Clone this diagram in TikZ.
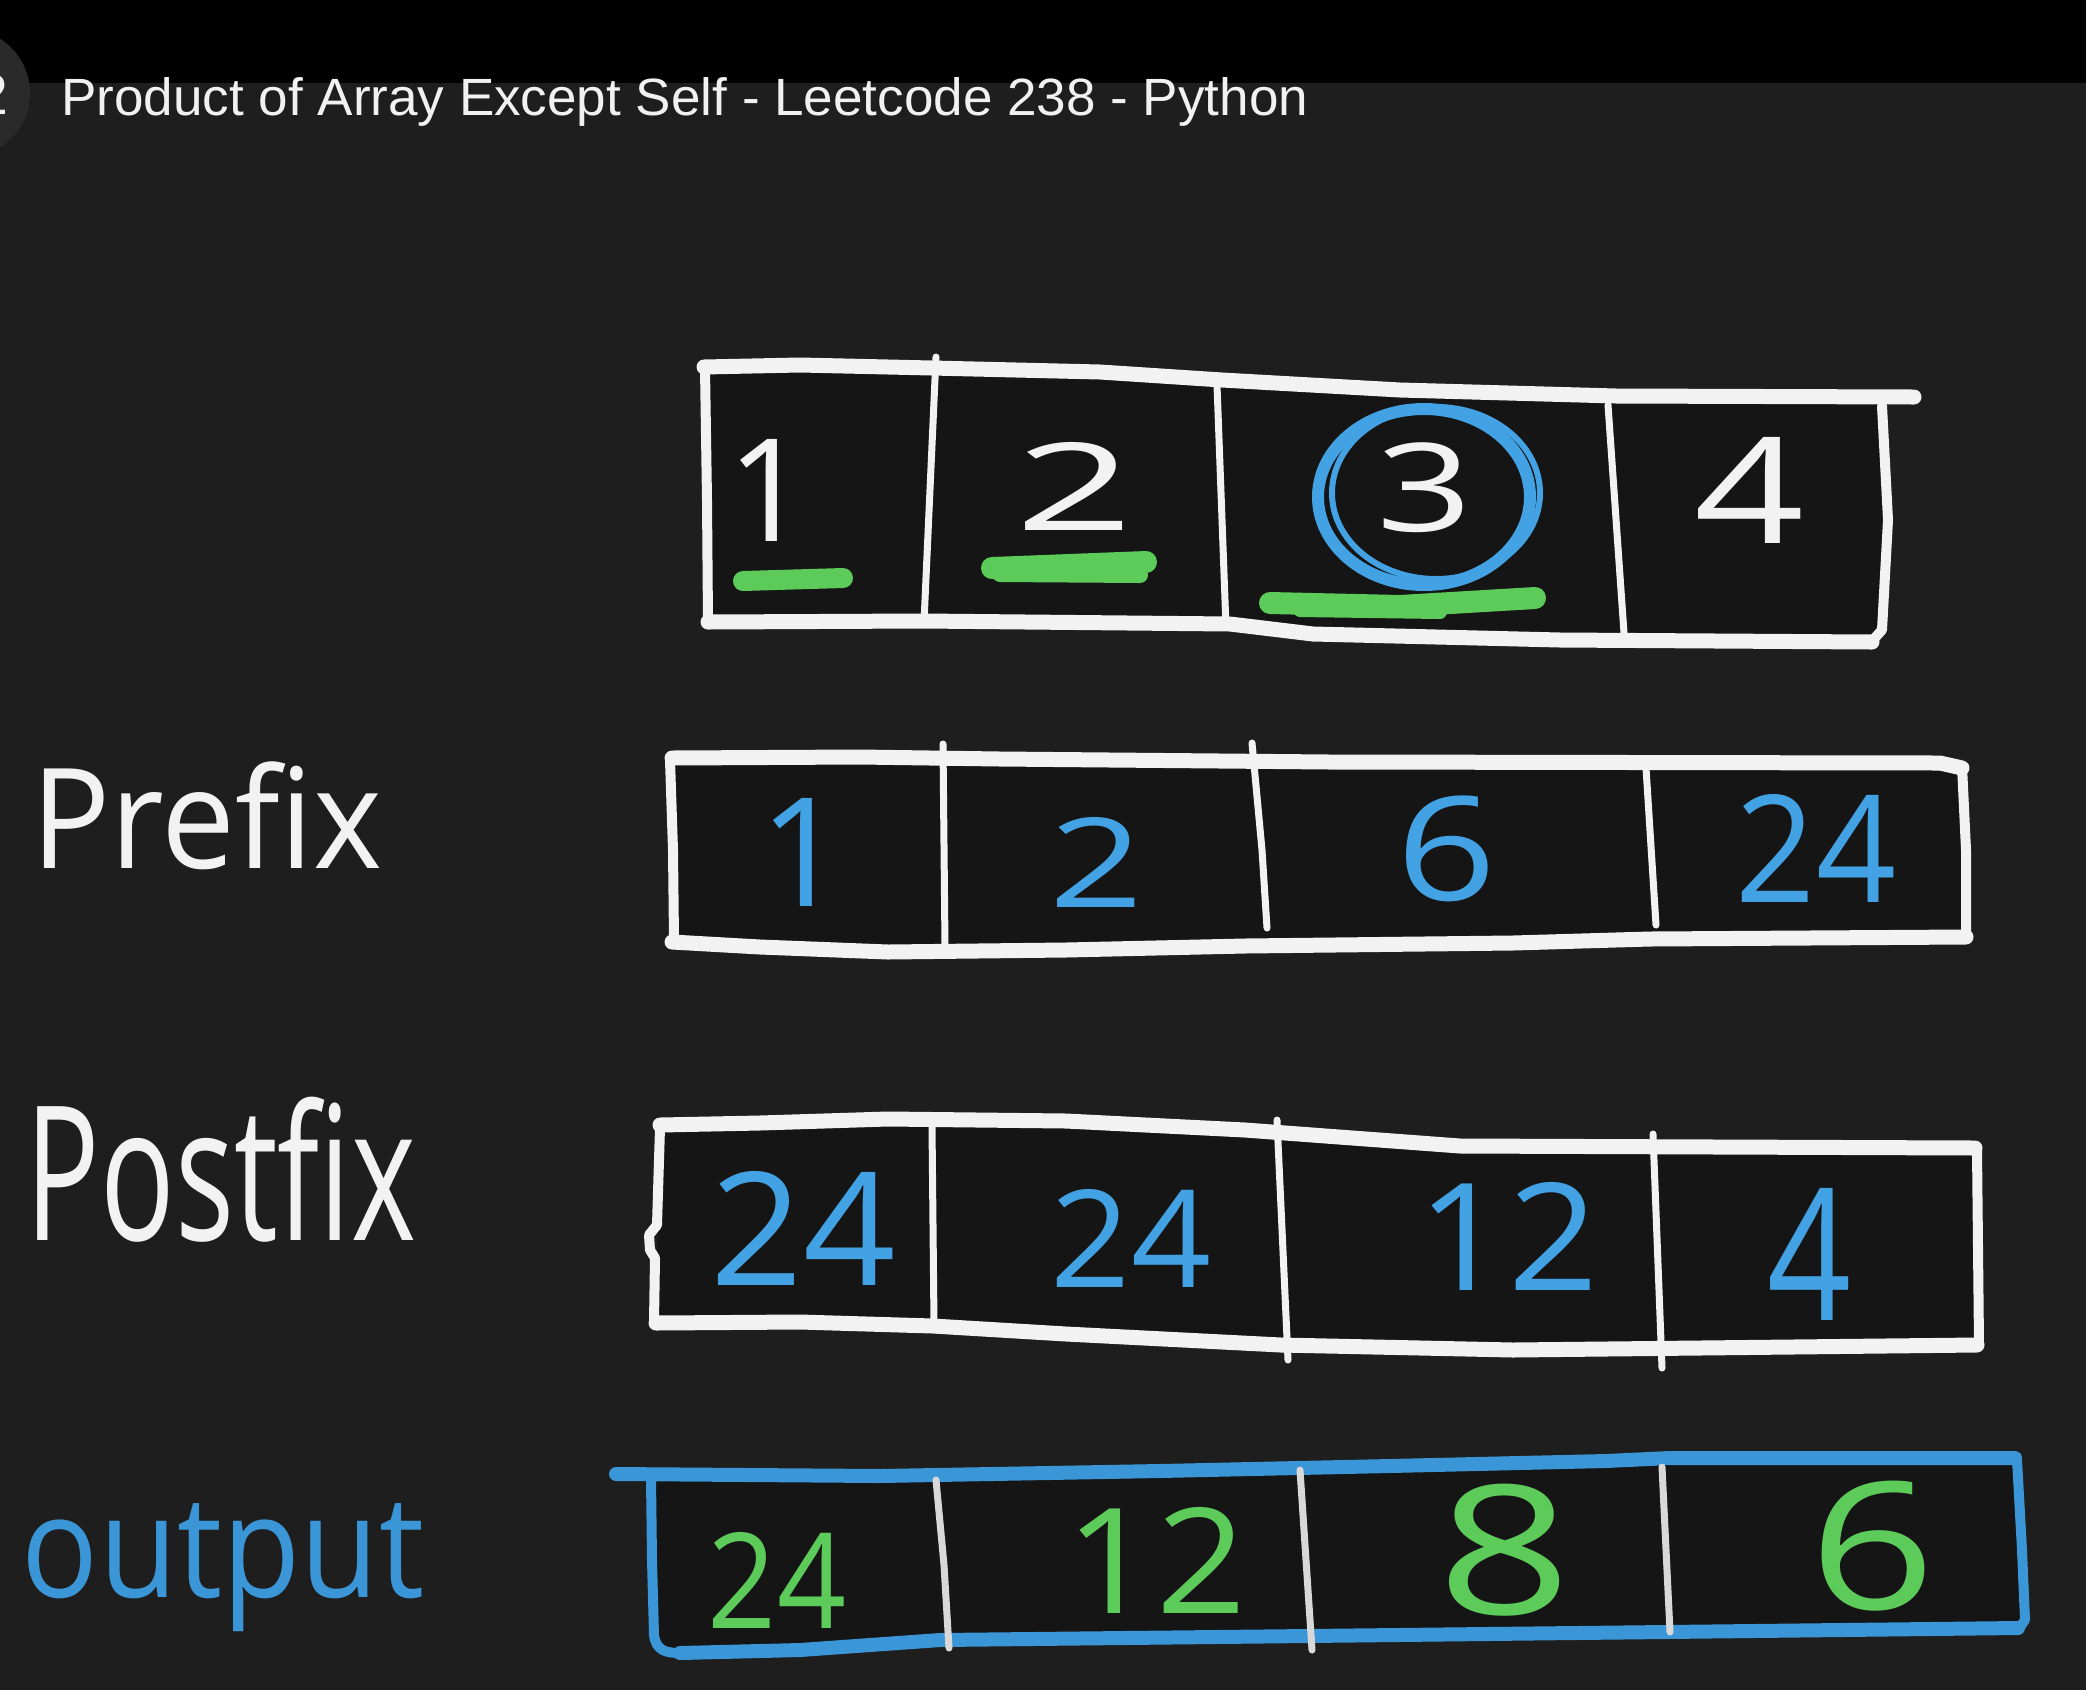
\documentclass[tikz,border=0pt]{standalone}
\usepackage{fontspec}
\usepackage{graphicx}
\setmainfont{Liberation Sans}
\newfontfamily\handfont{Open Sans}
\newfontfamily\ytfont{Liberation Sans}
\definecolor{bgc}{HTML}{1E1E1E}
\definecolor{cellc}{HTML}{151515}
\definecolor{iconc}{HTML}{2A2A2A}
\definecolor{inkw}{HTML}{F2F2F2}
\definecolor{inkg}{HTML}{D8D8D8}
\definecolor{inkb}{HTML}{43A2E4}
\definecolor{inkbo}{HTML}{3A96D6}
\definecolor{inkgr}{HTML}{5CCB5A}
\definecolor{titlec}{HTML}{F1F1F1}
\newcommand{\hd}[2]{\resizebox{!}{#1pt}{\handfont #2}}
\newcommand{\hw}[3]{\resizebox*{#1pt}{#2pt}{\handfont #3}}
\begin{document}
\begin{tikzpicture}[x=1pt,y=-1pt,
  pen/.style={line cap=round,line join=round},
  edgeh/.style={pen,draw=inkw,line width=15pt},
  edgev/.style={pen,draw=inkw,line width=10pt},
  divw/.style={pen,draw=inkw,line width=7pt},
  bedgeh/.style={pen,draw=inkbo,line width=14pt},
  bedgev/.style={pen,draw=inkbo,line width=10pt},
  divg/.style={pen,draw=inkg,line width=7pt},
  cell/.style={fill=cellc},
  glyph/.style={inner sep=0pt,outer sep=0pt,anchor=center},
  hl/.style={pen,draw=inkgr,line width=20pt}]
\useasboundingbox (0,0) rectangle (2086,1690);
\fill[bgc] (0,0) rectangle (2086,1690);
\fill[black] (0,0) rectangle (2086,83);
% channel icon
\fill[iconc] (-34,93) circle (64);
\node[glyph,text=titlec] (iconglyph) at (-8,94) {\resizebox{!}{40pt}{\ytfont 2}};
% title
\node[inner sep=0pt,anchor=base west,text=titlec] (title) at (61,115)
  {\resizebox{1247pt}{38pt}{\ytfont Product of Array Except Self - Leetcode 238 - Python}};

% ---------- row 1 : input ----------
\fill[cell] (706,367) -- (932,368) -- (1222,380) -- (1616,396) -- (1882,400) -- (1886,520) -- (1880,635) -- (1560,640) -- (1313,634) -- (1230,624) -- (706,622) -- cycle;
\draw[edgeh] (704,367) -- (800,365) -- (932,368) -- (1100,372) -- (1222,380) -- (1400,390) -- (1616,396) -- (1914,397);
\draw[edgeh] (708,622) -- (924,621) -- (1230,624) -- (1313,634) -- (1560,640) -- (1872,642);
\draw[edgev] (705,368) -- (707,500) -- (708,622);
\draw[edgev] (1882,406) -- (1888,520) -- (1882,630) -- (1872,641);
\draw[divw] (936,357) -- (924,622);
\draw[divw] (1217,385) -- (1226,627);
\draw[divw] (1608,405) -- (1624,633);
\node[glyph,text=inkw] (in1) at (768,490) {\hd{102}{1}};
\node[glyph,text=inkw] (in2) at (1075,486) {\hw{118}{88}{2}};
\node[glyph,text=inkw] (in3) at (1425,488) {\hw{96}{90}{3}};
\node[glyph,text=inkw] (in4) at (1750,490) {\hw{110}{106}{4}};
\draw[pen,draw=inkb,line width=12pt] (1424,497) ellipse [x radius=106, y radius=88];
\draw[pen,draw=inkb,line width=6pt] (1436,493) ellipse [x radius=104, y radius=86];
\draw[hl] (743,581) -- (843,578);
\draw[hl,line width=22pt] (992,568) -- (1146,562);
\draw[hl,line width=16pt] (1000,574) -- (1140,575);
\draw[hl,line width=22pt] (1270,603) -- (1400,606) -- (1535,598);
\draw[hl,line width=14pt] (1300,610) -- (1440,612);

% ---------- row 2 : prefix ----------
\node[glyph,text=inkw] (prefixlbl) at (207,816) {\hw{351}{108}{Prefix}};
\fill[cell] (672,758) -- (1962,763) -- (1966,937) -- (1650,939) -- (1066,950) -- (888,952) -- (672,942) -- cycle;
\draw[edgeh] (672,758) -- (860,757) -- (1000,759) -- (1330,762) -- (1940,763) -- (1962,768);
\draw[edgeh] (672,942) -- (760,947) -- (888,952) -- (1066,950) -- (1245,946) -- (1513,943) -- (1650,939) -- (1966,937);
\draw[edgev] (670,760) -- (673,850) -- (674,940);
\draw[edgev] (1962,766) -- (1966,850) -- (1966,937);
\draw[divw] (943,744) -- (945,947);
\draw[divw] (1252,743) -- (1262,850) -- (1267,928);
\draw[divw] (1646,768) -- (1656,925);
\node[glyph,text=inkb] (pre1) at (803,852) {\hd{108}{1}};
\node[glyph,text=inkb] (pre2) at (1097,862) {\hw{94}{90}{2}};
\node[glyph,text=inkb] (pre3) at (1447,849) {\hw{100}{106}{6}};
\node[glyph,text=inkb] (pre4) at (1816,848) {\hw{160}{108}{24}};

% ---------- row 3 : postfix ----------
\node[glyph,text=inkw] (postfixlbl) at (221,1170) {\hw{390}{145}{Postfix}};
\fill[cell] (660,1125) -- (888,1119) -- (1066,1121) -- (1245,1130) -- (1460,1146) -- (1977,1148) -- (1979,1345) -- (1513,1350) -- (1281,1345) -- (1066,1334) -- (933,1326) -- (656,1323) -- cycle;
\draw[edgeh] (660,1125) -- (760,1123) -- (888,1119) -- (1066,1121) -- (1245,1130) -- (1460,1146) -- (1975,1148);
\draw[edgeh] (656,1323) -- (800,1322) -- (933,1326) -- (1066,1334) -- (1281,1345) -- (1513,1350) -- (1700,1348) -- (1977,1345);
\draw[edgev] (660,1128) -- (657,1225) -- (649,1235) -- (650,1250) -- (655,1258) -- (654,1322);
\draw[edgev] (1977,1150) -- (1979,1345);
\draw[divw] (932,1126) -- (934,1324);
\draw[divw] (1277,1120) -- (1288,1360);
\draw[divw] (1653,1134) -- (1662,1368);
\node[glyph,text=inkb] (post1) at (803,1228) {\hw{185}{114}{24}};
\node[glyph,text=inkb] (post2) at (1131,1238) {\hw{160}{98}{24}};
\node[glyph,text=inkb] (post3) at (1508,1236) {\hw{180}{108}{12}};
\node[glyph,text=inkb] (post4) at (1810,1254) {\hw{84}{132}{4}};

% ---------- row 4 : output ----------
\node[glyph,text=inkbo] (outputlbl) at (223,1568) {\hw{402}{128}{output}};
\fill[cell] (651,1474) -- (880,1476) -- (1160,1471) -- (1390,1466) -- (1670,1458) -- (2017,1458) -- (2024,1625) -- (1666,1632) -- (1308,1636) -- (940,1640) -- (680,1653) -- (652,1640) -- cycle;
\draw[bedgeh] (616,1474) -- (880,1476) -- (1160,1471) -- (1390,1466) -- (1606,1461) -- (1670,1458) -- (2015,1458);
\draw[bedgeh] (680,1653) -- (800,1650) -- (940,1640) -- (1308,1636) -- (1666,1632) -- (2018,1628);
\draw[bedgev] (651,1478) -- (652,1560) -- (654,1635) .. controls (656,1650) and (665,1653) .. (680,1653);
\draw[bedgev] (2017,1460) -- (2022,1550) -- (2025,1620) -- (2018,1630);
\draw[divg] (936,1480) -- (944,1565) -- (949,1648);
\draw[divg] (1300,1470) -- (1312,1650);
\draw[divg] (1662,1467) -- (1670,1632);
\node[glyph,text=inkgr] (out1) at (777,1580) {\hw{138}{96}{24}};
\node[glyph,text=inkgr] (out2) at (1156,1560) {\hw{180}{106}{12}};
\node[glyph,text=inkgr] (out3) at (1505,1550) {\hw{134}{132}{8}};
\node[glyph,text=inkgr] (out4) at (1873,1546) {\hw{126}{130}{6}};
\end{tikzpicture}
\end{document}
